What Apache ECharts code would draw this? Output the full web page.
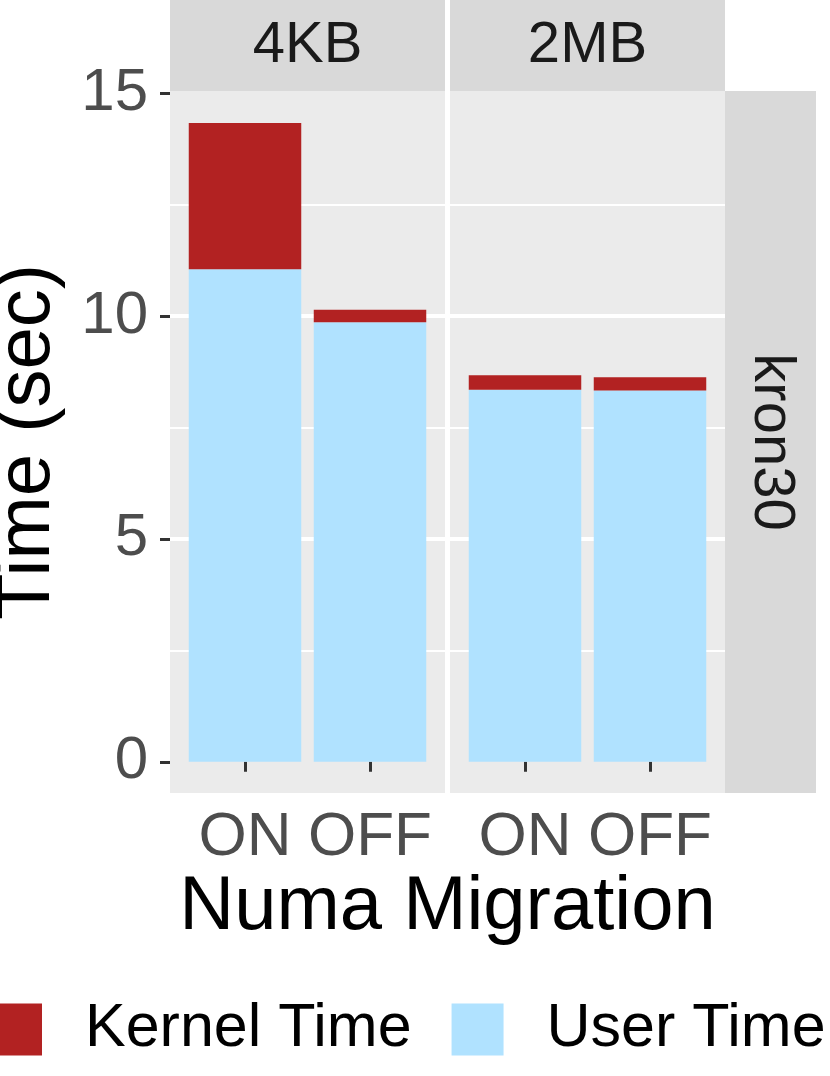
<!DOCTYPE html>
<html>
<head>
<meta charset="utf-8">
<script src="https://cdn.jsdelivr.net/npm/echarts@6/dist/echarts.min.js"></script>
<style>
    html, body {margin: 0; padding: 0; background: #fff;}
    #main {width: 830px; height: 1076px;}
</style>
</head>
<body>
<div id="main"></div>
<script>
// data
const categories = ['ON', 'OFF'];
const facets = ['4KB', '2MB'];
const rowStrip = 'kron30';
const userTime4KB = [11.05, 9.86];
const kernelTime4KB = [3.28, 0.28];
const userTime2MB = [8.35, 8.33];
const kernelTime2MB = [0.32, 0.30];
const yTicks = [0, 5, 10, 15];

const FONT = 'Liberation Sans, Arial, sans-serif';
const RED = '#B22222';
const BLUE = '#B0E2FF';

// categories sit at 1, 2 on a value axis (like ggplot's discrete scale with its padding).
// value goes first in each row so echarts stacks the value and not the position
const toRows = vals => vals.map((v, i) => [v, i + 1]);
const xTicks = categories.map((c, i) => i + 1);

const panelLeft = [170, 450];
const panelTop = 91;
const panelW = 275;
const panelH = 702;

const chart = echarts.init(document.getElementById('main'));

let grids = [], xAxes = [], yAxes = [], series = [];
const data = [
    {user: userTime4KB, kernel: kernelTime4KB},
    {user: userTime2MB, kernel: kernelTime2MB},
];

panelLeft.forEach((left, k) => {
    grids.push({
        left: left, top: panelTop, width: panelW, height: panelH,
        show: true, backgroundColor: '#EBEBEB', borderWidth: 0
    });
    xAxes.push({
        type: 'value', gridIndex: k, min: 0.4, max: 2.6, splitNumber: 2,
        axisLine: {show: false},
        axisTick: {show: true, length: 10, customValues: xTicks, lineStyle: {color: '#333333', width: 3}},
        axisLabel: {
            customValues: xTicks, margin: 14, fontSize: 62, fontFamily: FONT, color: '#4D4D4D',
            formatter: v => categories[Math.round(v) - 1] || ''
        },
        splitLine: {show: true, showMinLine: false, showMaxLine: false, lineStyle: {color: '#FFFFFF', width: 4}}
    });
    yAxes.push({
        type: 'value', gridIndex: k, min: -0.70, max: 15.05, splitNumber: 3,
        axisLine: {show: false},
        axisTick: {show: k === 0, length: 10, customValues: yTicks, lineStyle: {color: '#333333', width: 3}},
        axisLabel: {
            show: k === 0, customValues: yTicks, margin: 22, fontSize: 60, fontFamily: FONT, color: '#4D4D4D'
        },
        splitLine: {show: true, showMinLine: false, showMaxLine: false, lineStyle: {color: '#FFFFFF', width: 4}},
        minorTick: {show: false, splitNumber: 2},
        minorSplitLine: {show: true, lineStyle: {color: '#FFFFFF', width: 2}}
    });
    series.push({
        name: 'User Time', type: 'bar', stack: 'time' + k,
        xAxisIndex: k, yAxisIndex: k, barWidth: 112.5,
        encode: {x: 1, y: 0},
        itemStyle: {color: BLUE},
        data: toRows(data[k].user)
    });
    series.push({
        name: 'Kernel Time', type: 'bar', stack: 'time' + k,
        xAxisIndex: k, yAxisIndex: k, barWidth: 112.5,
        encode: {x: 1, y: 0},
        itemStyle: {color: RED},
        data: toRows(data[k].kernel)
    });
});

// facet strips and axis titles
const graphics = [];
facets.forEach((f, k) => {
    graphics.push({type: 'rect', shape: {x: panelLeft[k], y: 0, width: panelW, height: panelTop}, style: {fill: '#D9D9D9'}, z: 10});
    graphics.push({
        type: 'text', x: panelLeft[k] + panelW / 2, y: 46, z: 11,
        style: {text: f, font: '58px ' + FONT, fill: '#1A1A1A', align: 'center', verticalAlign: 'middle'}
    });
});
graphics.push({type: 'rect', shape: {x: 725, y: panelTop, width: 91, height: panelH}, style: {fill: '#D9D9D9'}, z: 10});
graphics.push({
    type: 'text', x: 770.5, y: panelTop + panelH / 2, rotation: -Math.PI / 2, z: 11,
    style: {text: rowStrip, font: '58px ' + FONT, fill: '#1A1A1A', align: 'center', verticalAlign: 'middle'}
});
graphics.push({
    type: 'text', x: 28, y: panelTop + panelH / 2, rotation: Math.PI / 2, z: 11,
    style: {text: 'Time (sec)', font: '76px ' + FONT, fill: '#000000', align: 'center', verticalAlign: 'middle'}
});
graphics.push({
    type: 'text', x: 447.5, y: 908, z: 11,
    style: {text: 'Numa Migration', font: '76px ' + FONT, fill: '#000000', align: 'center', verticalAlign: 'middle'}
});

const option = {
    animation: false,
    grid: grids,
    xAxis: xAxes,
    yAxis: yAxes,
    series: series,
    legend: {
        data: ['Kernel Time', 'User Time'],
        left: -10, top: 999, padding: 0,
        icon: 'rect', itemWidth: 52, itemHeight: 52, itemGap: 40,
        selectedMode: false,
        textStyle: {fontSize: 61, fontFamily: FONT, color: '#000000', padding: [0, 0, 0, 38]}
    },
    graphic: graphics
};
chart.setOption(option);
</script>
</body>
</html>
